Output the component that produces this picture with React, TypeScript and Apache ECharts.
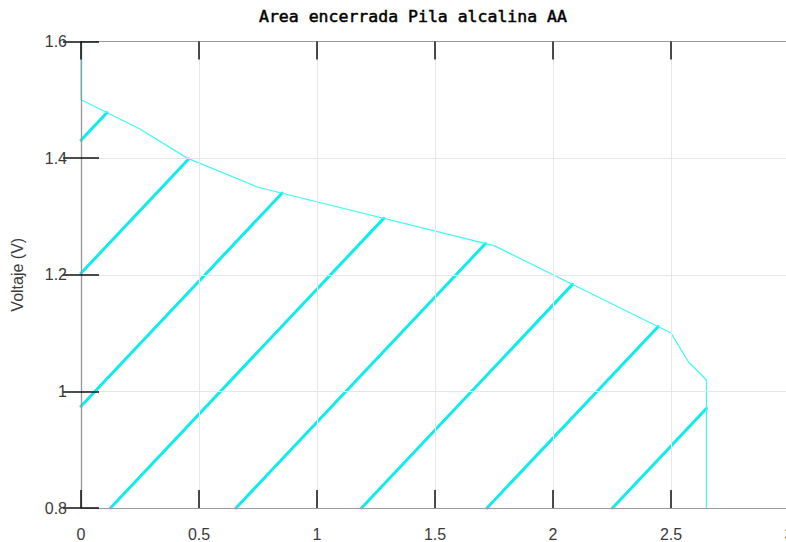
import React, { useEffect, useRef } from "react";
import * as echarts from "echarts";

// Discharge curve of the alkaline AA cell (x: capacity, y: voltage)
const capacity = [0, 0, 0.25, 0.45, 0.75, 1.75, 2.5, 2.575, 2.65, 2.65];
const voltage = [1.6, 1.5, 1.45, 1.4, 1.35, 1.25, 1.1, 1.05, 1.02, 0.8];
const baseVoltage = 0.8;
const xTicks = [0, 0.5, 1, 1.5, 2, 2.5, 3];
const yTicks = [0.8, 1, 1.2, 1.4, 1.6];
const titleText = "Area encerrada Pila alcalina AA";
const yName = "Voltaje (V)";

const CURVE = "#3ff8f8";
const HATCH = "#10ecec";
const AXIS_LINE = "#999";
const TICK = "#111";
const SPLIT = "#e6e6e6";
const LABEL = "#3a3a3a";
const SANS = "Liberation Sans, Arial, sans-serif";

export default function App() {
  const ref = useRef<HTMLDivElement>(null);
  useEffect(() => {
    if (!ref.current) return;
    const chart = echarts.init(ref.current, undefined, { renderer: "svg" });
    const curveData = capacity.map((x, i) => [x, voltage[i]]);

    const renderHatch = (params: any, api: any) => {
      const pts: number[][] = curveData.map((p) => api.coord(p));
      pts.push(api.coord([capacity[capacity.length - 1], baseVoltage]));
      pts.push(api.coord([capacity[0], baseVoltage]));
      const poly: number[][] = [];
      for (const p of pts) {
        const q = poly[poly.length - 1];
        if (!q || Math.abs(q[0] - p[0]) > 1e-6 || Math.abs(q[1] - p[1]) > 1e-6) poly.push(p);
      }
      const cs = params.coordSys;
      const yb = cs.y + cs.height;
      const slope = 1.06;
      const spacing = 125.5;
      const phase = 29.5;
      const children: any[] = [];
      for (let j = -12; j < 20; j++) {
        const x0 = cs.x + phase + spacing * j;
        const ts: number[] = [];
        for (let i = 0; i < poly.length; i++) {
          const a = poly[i];
          const b = poly[(i + 1) % poly.length];
          const dx = b[0] - a[0];
          const dy = b[1] - a[1];
          const det = -dy - dx * slope;
          if (Math.abs(det) < 1e-9) continue;
          const r0 = a[0] - x0;
          const r1 = a[1] - yb;
          const t = (-dy * r0 + dx * r1) / det;
          const u = (r1 + slope * r0) / det;
          if (u >= 0 && u < 1) ts.push(t);
        }
        ts.sort((p, q) => p - q);
        for (let k = 0; k + 1 < ts.length; k += 2) {
          if (ts[k + 1] - ts[k] < 0.5) continue;
          children.push({
            type: "line",
            shape: {
              x1: x0 + ts[k],
              y1: yb - slope * ts[k],
              x2: x0 + ts[k + 1],
              y2: yb - slope * ts[k + 1],
            },
            style: { stroke: HATCH, lineWidth: 3, lineCap: "round" },
          });
        }
      }
      return { type: "group", children };
    };

    const fmt = (v: number) => String(+v.toFixed(2));

    chart.setOption({
      animation: false,
      backgroundColor: "#fff",
      title: {
        text: titleText,
        left: 259,
        top: 8,
        padding: 0,
        textStyle: {
          fontFamily: "DejaVu Sans Mono",
          fontSize: 16.5,
          fontWeight: "normal",
          color: "#000",
          textBorderColor: "#000",
          textBorderWidth: 0.5,
        },
      },
      grid: { left: 81, top: 41.5, width: 708, height: 466.5, containLabel: false },
      xAxis: [
        {
          type: "value",
          min: xTicks[0],
          max: xTicks[xTicks.length - 1],
          interval: 0.5,
          position: "bottom",
          axisLine: { show: true, lineStyle: { color: AXIS_LINE, width: 1.2 } },
          axisTick: { show: true, inside: true, length: 18, lineStyle: { color: TICK, width: 1.5 } },
          splitLine: { show: true, lineStyle: { color: SPLIT, width: 1 } },
          axisLabel: { margin: 18, fontSize: 16, color: LABEL, fontFamily: SANS, formatter: fmt },
          z: 3,
        },
        {
          type: "value",
          min: xTicks[0],
          max: xTicks[xTicks.length - 1],
          interval: 0.5,
          position: "top",
          axisLine: { show: true, lineStyle: { color: AXIS_LINE, width: 1.2 } },
          axisTick: { show: true, inside: true, length: 18, lineStyle: { color: TICK, width: 1.5 } },
          splitLine: { show: false },
          axisLabel: { show: false },
          z: 3,
        },
      ],
      yAxis: [
        {
          type: "value",
          min: yTicks[0],
          max: yTicks[yTicks.length - 1],
          interval: 0.2,
          position: "left",
          name: yName,
          nameLocation: "middle",
          nameRotate: 90,
          nameGap: 56,
          nameTextStyle: { fontSize: 16, color: LABEL, fontFamily: SANS },
          axisLine: { show: true, lineStyle: { color: AXIS_LINE, width: 1.2 } },
          axisTick: { show: true, inside: true, length: 18, lineStyle: { color: TICK, width: 1.5 } },
          splitLine: { show: true, lineStyle: { color: SPLIT, width: 1 } },
          axisLabel: { margin: 14, fontSize: 16, color: LABEL, fontFamily: SANS, formatter: fmt },
          z: 3,
        },
        {
          type: "value",
          min: yTicks[0],
          max: yTicks[yTicks.length - 1],
          interval: 0.2,
          position: "right",
          axisLine: { show: true, lineStyle: { color: AXIS_LINE, width: 1.2 } },
          axisTick: { show: true, inside: true, length: 18, lineStyle: { color: TICK, width: 1.5 } },
          splitLine: { show: false },
          axisLabel: { show: false },
          z: 3,
        },
      ],
      series: [
        {
          type: "custom",
          xAxisIndex: 0,
          yAxisIndex: 0,
          data: [[0, baseVoltage]],
          renderItem: renderHatch,
          silent: true,
          z: 1,
        },
        {
          type: "line",
          xAxisIndex: 0,
          yAxisIndex: 0,
          data: curveData,
          showSymbol: false,
          symbol: "none",
          lineStyle: { color: CURVE, width: 1.2 },
          silent: true,
          z: 2,
        },
      ],
    });
    return () => chart.dispose();
  }, []);

  return (
    <div
      style={{
        position: "fixed",
        left: 0,
        top: 0,
        width: 786,
        height: 542,
        overflow: "hidden",
        background: "#fff",
      }}
    >
      <div ref={ref} style={{ width: 800, height: 542 }} />
    </div>
  );
}
